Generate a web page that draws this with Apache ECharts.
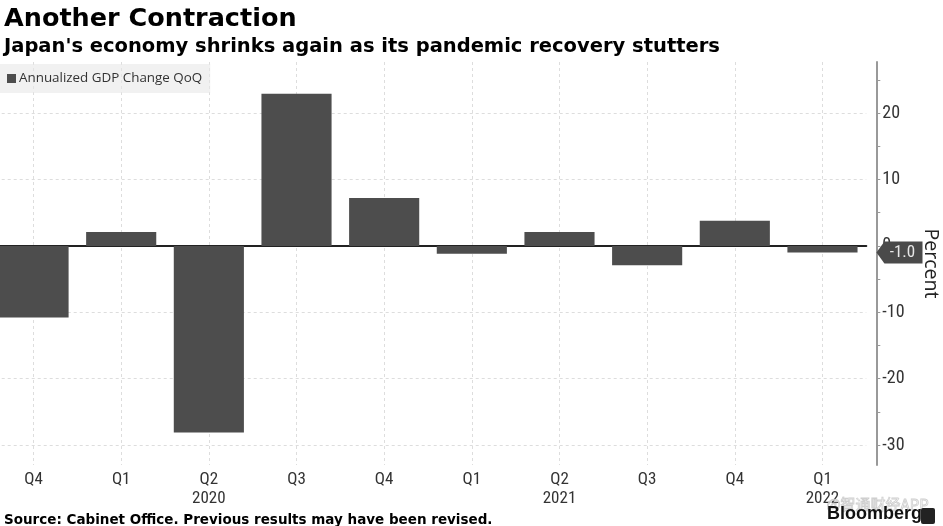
<!DOCTYPE html>
<html>
<head>
<meta charset="utf-8">
<script src="https://cdn.jsdelivr.net/npm/echarts@6/dist/echarts.min.js"></script>
<style>
html,body{margin:0;padding:0;background:#fff;}
#chart{width:943px;height:526px;}
</style>
</head>
<body>
<div id="chart"></div>
<script>
var quarters = ['Q4', 'Q1', 'Q2', 'Q3', 'Q4', 'Q1', 'Q2', 'Q3', 'Q4', 'Q1'];
var yearLabels = ['', '', '2020', '', '', '', '2021', '', '', '2022'];
var categories = ['2019 Q4', '2020 Q1', '2020 Q2', '2020 Q3', '2020 Q4', '2021 Q1', '2021 Q2', '2021 Q3', '2021 Q4', '2022 Q1'];
var gdpChange = [-10.8, 2.1, -28.1, 22.9, 7.2, -1.2, 2.1, -2.9, 3.8, -1.0];
var yLabelValues = [-30, -20, -10, 0, 10, 20];
var yTickValues = [-30, -25, -20, -15, -10, -5, 0, 5, 10, 15, 20, 25];
var yGridValues = [-30, -20, -10, 10, 20];
var seriesName = 'Annualized GDP Change QoQ';

var narrow = '"Liberation Sans Narrow", "Roboto Condensed", "Liberation Sans", sans-serif';
var bold = '"DejaVu Sans", Verdana, sans-serif';
var lastIdx = gdpChange.length - 1;
var lastVal = gdpChange[lastIdx];

var chart = echarts.init(document.getElementById('chart'));
chart.setOption({
  animation: false,
  backgroundColor: '#ffffff',
  title: [
    { text: 'Another Contraction', left: -1, top: 1,
      textStyle: { fontFamily: bold, fontWeight: 'bold', fontSize: 25.5, color: '#000' } },
    { text: "Japan's economy shrinks again as its pandemic recovery stutters", left: -1, top: 32,
      textStyle: { fontFamily: bold, fontWeight: 'bold', fontSize: 19.5, color: '#000' } },
    { text: 'Source: Cabinet Office. Previous results may have been revised.', left: -1, top: 508,
      textStyle: { fontFamily: bold, fontWeight: 'bold', fontSize: 13.5, color: '#000' } }
  ],
  legend: {
    left: 0, top: 64,
    padding: [8, 8, 8, 7],
    backgroundColor: 'rgba(232,232,232,0.6)',
    itemWidth: 9, itemHeight: 9, itemGap: 5,
    icon: 'rect',
    data: [seriesName],
    textStyle: { fontFamily: '"Open Sans", sans-serif', fontSize: 13.4, color: '#333', padding: [0, 0, 0, -2] }
  },
  grid: { left: -10.3, right: 76.7, top: 62, bottom: 61, containLabel: false, outerBoundsMode: 'none' },
  xAxis: {
    type: 'category',
    data: categories,
    axisLine: { show: true, onZero: true, lineStyle: { color: '#222', width: 2 } },
    axisTick: { show: false },
    splitLine: { show: true, interval: 0, alignWithLabel: true,
      lineStyle: { color: '#dddddd', type: [3, 3], width: 1 } },
    axisLabel: {
      interval: 0, margin: 5,
      fontFamily: narrow, fontSize: 17, color: '#333', lineHeight: 19,
      formatter: function (v, i) {
        return quarters[i] + (yearLabels[i] ? '\n' + yearLabels[i] : '');
      }
    }
  },
  yAxis: [
    {
      type: 'value', position: 'right', offset: 10,
      min: -33, max: 27.7,
      name: 'Percent', nameLocation: 'middle', nameRotate: -90, nameGap: 44,
      nameTextStyle: { fontFamily: '"Open Sans", sans-serif', fontSize: 19.5, color: '#222', padding: [0, 0, 0, 0] },
      axisLine: { show: true, lineStyle: { color: '#999', width: 2 } },
      axisTick: { show: true, inside: false, length: 4, customValues: yTickValues,
        lineStyle: { color: '#999', width: 1 } },
      axisLabel: { show: true, customValues: yLabelValues, margin: 6,
        fontFamily: narrow, fontSize: 18, color: '#333' },
      splitLine: { show: false }
    },
    {
      type: 'value', position: 'right',
      min: -33, max: 27.7,
      axisLine: { show: false },
      axisTick: { show: false, customValues: yGridValues },
      axisLabel: { show: false, customValues: yGridValues },
      splitLine: { show: true, lineStyle: { color: '#dddddd', type: [3, 3], width: 1 } }
    }
  ],
  series: [
    {
      name: seriesName,
      type: 'bar',
      yAxisIndex: 0,
      data: gdpChange,
      barCategoryGap: '20%',
      itemStyle: { color: '#4d4d4d' },
      z: 2,
      markPoint: {
        silent: true,
        symbol: 'path://M0,11 L9,0 L52,0 L52,22 L9,22 Z',
        symbolSize: [46, 22],
        symbolKeepAspect: false,
        symbolOffset: [77, 0],
        itemStyle: { color: '#4a4a4a' },
        label: {
          show: true, position: 'inside', offset: [3, 0],
          fontFamily: narrow, fontSize: 17, color: '#e8e8e8',
          formatter: function () { return lastVal.toFixed(1); }
        },
        data: [{ coord: [lastIdx, lastVal], value: lastVal }]
      }
    }
  ],
  graphic: [
    { type: 'text', left: 826, top: 496, z: 1,
      style: { text: '@智通财经APP', fontFamily: '"Noto Sans CJK SC", sans-serif', fontSize: 15,
        fill: 'rgba(255,255,255,0)', stroke: '#cfcfcf', lineWidth: 0.8 } },
    { type: 'text', left: 827, top: 505, z: 2,
      style: { text: 'Bloomberg', fontFamily: '"Liberation Sans", Arial, sans-serif', fontWeight: 'bold',
        fontSize: 18, fill: '#111' } },
    { type: 'rect', left: 921, top: 508, z: 2,
      shape: { width: 14, height: 16, r: 2 }, style: { fill: '#222' } }
  ]
});
</script>
</body>
</html>
